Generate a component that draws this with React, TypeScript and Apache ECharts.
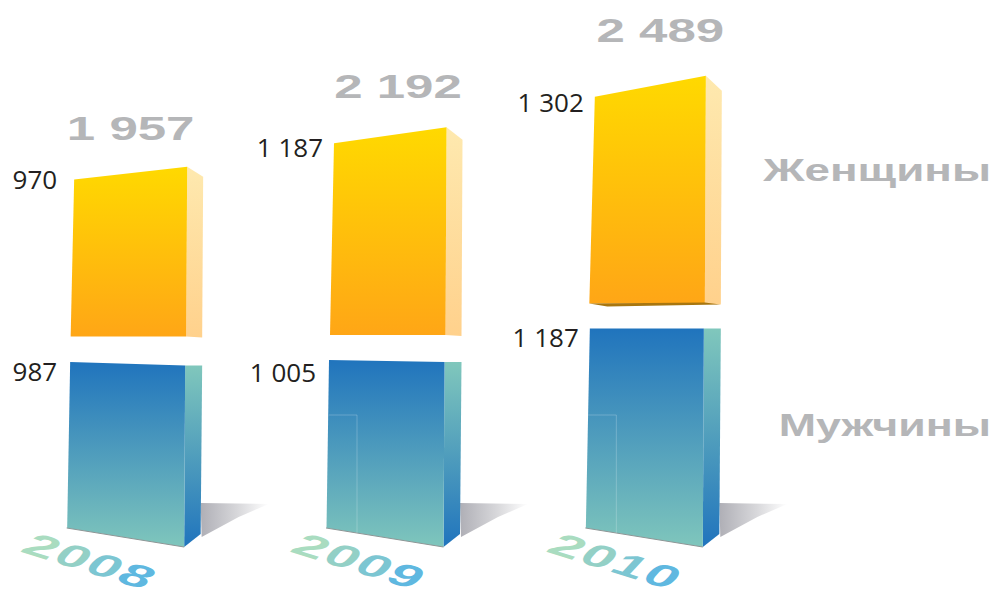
import React, { useEffect, useRef } from "react";
import * as echarts from "echarts";

const categories = ["2008", "2009", "2010"];
const women = [970, 1187, 1302];
const men = [987, 1005, 1187];
const totals = [1957, 2192, 2489];
const legendLabels = ["Женщины", "Мужчины"];

const GREY = "#B5B6B8";
const SANS = '"Liberation Sans", Arial, sans-serif';
const LABEL_FONT = '"Open Sans", sans-serif';
const WOMEN_SCALE = 0.951;
const stackGap = [29, 27, 25];
const yearNudge = [-45, -35, -38];
const yearColors = ["#A9DCC0", "#93D0C6", "#7CC6D2", "#5FB8E0"];
const womenLeftTop = [-60.5, -60, -58.5];
const womenFrontDrop = [0.076, 0.077, 0.092];
const womenSideDrop = [0.06, 0.06, 0.066];
const womenLabelNudge = [[-6, -1], [0, 4], [0, 5]];
const menLeftTop = [-64.5, -65, -63.5];
const menLeftDrop = [3.5, 2, 0];
const menLabelNudge = [[0, 6], [0, 10], [2, 8]];
const totalNudge = [[-4, 0], [4, -3], [7, -8]];

const fmt = (n: number) => {
  const s = String(n);
  return s.length > 3 ? s.slice(0, s.length - 3) + " " + s.slice(-3) : s;
};
const vGrad = (a: string, b: string) =>
  new echarts.graphic.LinearGradient(0, 0, 0, 1, [
    { offset: 0, color: a },
    { offset: 1, color: b },
  ]);
const poly = (points: number[][], fill: any, extra: any = {}) => ({
  type: "polygon",
  silent: true,
  shape: { points },
  style: { fill, ...extra },
});

function renderMen(params: any, api: any) {
  const i = params.dataIndex;
  const [cx, top] = api.coord([api.value(0), api.value(1)]);
  const y0 = api.coord([api.value(0), 0])[1];
  const tlX = cx + menLeftTop[i];
  const tlY = top - menLeftDrop[i];
  const children: any[] = [
    poly(
      [[cx + 66, y0 - 44], [cx + 134, y0 - 43], [cx + 104, y0 - 30], [cx + 67, y0 - 10]],
      new echarts.graphic.LinearGradient(0, 0, 1, 0, [
        { offset: 0, color: "#AFAFB6" },
        { offset: 0.55, color: "#D8D8DB" },
        { offset: 1, color: "#FFFFFF" },
      ])
    ),
    poly(
      [[cx + 50.5, top], [cx + 67.5, top], [cx + 66, y0 - 13], [cx + 49.5, y0]],
      vGrad("#80C7BC", "#2074BD")
    ),
    poly(
      [[tlX, tlY], [cx + 50.5, top], [cx + 49.5, y0], [cx - 67.5, y0 - 19]],
      vGrad("#2074BD", "#7FC6BC")
    ),
    {
      type: "line",
      silent: true,
      shape: { x1: cx - 68, y1: y0 - 19, x2: cx + 49.5, y2: y0 },
      style: { stroke: "#8E9696", lineWidth: 1 },
    },
    {
      type: "text",
      silent: true,
      x: tlX - 13 + menLabelNudge[i][0],
      y: top + menLabelNudge[i][1],
      style: { text: fmt(men[i]), fill: "#231F20", align: "right", verticalAlign: "middle", fontFamily: LABEL_FONT, fontSize: 26 },
    },
  ];
  const theta = 0.3;
  const step = 33;
  categories[i].split("").forEach((digit, j) => {
    const d = (j - 1.5) * step;
    children.push({
      type: "text",
      silent: true,
      x: cx + yearNudge[i] + d * Math.cos(theta),
      y: y0 + 14 + d * Math.sin(theta),
      rotation: -theta,
      scaleX: 1.55,
      scaleY: 0.92,
      skewX: -0.45,
      style: {
        text: digit,
        fill: yearColors[j],
        align: "center",
        verticalAlign: "middle",
        fontFamily: SANS,
        fontWeight: "bold",
        fontSize: 36,
      },
    });
  });
  if (i > 0) {
    children.push({
      type: "polyline",
      silent: true,
      shape: { points: [[cx - 65, y0 - 132], [cx - 37, y0 - 132], [cx - 37, y0 - 14]] },
      style: { stroke: "rgba(255,255,255,0.22)", fill: "none", lineWidth: 1 },
    });
  }
  return { type: "group", children };
}

function renderWomen(params: any, api: any) {
  const i = params.dataIndex;
  const idx = api.value(0);
  const base = api.coord([idx, men[i]])[1] - stackGap[i];
  const cx = api.coord([idx, 0])[0];
  const h = (api.coord([idx, 0])[1] - api.coord([idx, api.value(1)])[1]) * WOMEN_SCALE;
  const top = base - h;
  const tlX = cx + womenLeftTop[i];
  const tlY = top + h * womenFrontDrop[i];
  const children: any[] = [
    poly(
      [[cx + 52.5, top], [cx + 68.5, top + h * womenSideDrop[i]], [cx + 67.5, base + 1], [cx + 51.5, base]],
      vGrad("#FEE9AF", "#FFD18C")
    ),
    poly(
      [[tlX, tlY], [cx + 52.5, top], [cx + 51.5, base], [cx - 64, base]],
      vGrad("#FFD900", "#FFA616")
    ),
    {
      type: "text",
      silent: true,
      x: tlX - 11 + womenLabelNudge[i][0],
      y: tlY + womenLabelNudge[i][1],
      style: { text: fmt(women[i]), fill: "#231F20", align: "right", verticalAlign: "middle", fontFamily: LABEL_FONT, fontSize: 26 },
    },
    {
      type: "text",
      silent: true,
      x: cx + totalNudge[i][0],
      y: top - 38 + totalNudge[i][1],
      scaleX: 1.5,
      style: { text: fmt(totals[i]), fill: GREY, align: "center", verticalAlign: "middle", fontFamily: SANS, fontWeight: "bold", fontSize: 34 },
    },
  ];
  if (i === 2) {
    children.push(
      poly([[cx - 64, base], [cx - 46, base + 3], [cx + 67, base + 1], [cx + 51.5, base - 1]], "#A8760F")
    );
  }
  return { type: "group", children };
}

export default function App() {
  const ref = useRef<HTMLDivElement>(null);
  useEffect(() => {
    const chart = echarts.init(ref.current!, undefined, { renderer: "svg" });
    chart.setOption({
      animation: false,
      backgroundColor: "#FFFFFF",
      grid: { left: 5, top: 20, width: 778, height: 527 },
      xAxis: { type: "category", data: categories, show: false },
      yAxis: { type: "value", min: 0, max: 2864, show: false },
      series: [
        {
          type: "custom",
          name: legendLabels[1],
          renderItem: renderMen,
          clip: false,
          encode: { x: 0, y: 1 },
          data: men.map((v, i) => [i, v]),
        },
        {
          type: "custom",
          name: legendLabels[0],
          renderItem: renderWomen,
          clip: false,
          encode: { x: 0, y: 1 },
          data: women.map((v, i) => [i, v]),
        },
      ],
      graphic: [
        {
          type: "text",
          x: 991,
          y: 170,
          scaleX: 1.43,
          silent: true,
          style: { text: legendLabels[0], fill: GREY, align: "right", verticalAlign: "middle", fontFamily: SANS, fontWeight: "bold", fontSize: 32 },
        },
        {
          type: "text",
          x: 991,
          y: 425,
          scaleX: 1.4,
          silent: true,
          style: { text: legendLabels[1], fill: GREY, align: "right", verticalAlign: "middle", fontFamily: SANS, fontWeight: "bold", fontSize: 32 },
        },
      ],
    });
    return () => chart.dispose();
  }, []);
  return <div ref={ref} style={{ position: "fixed", left: 0, top: 0, width: 993, height: 589 }} />;
}
